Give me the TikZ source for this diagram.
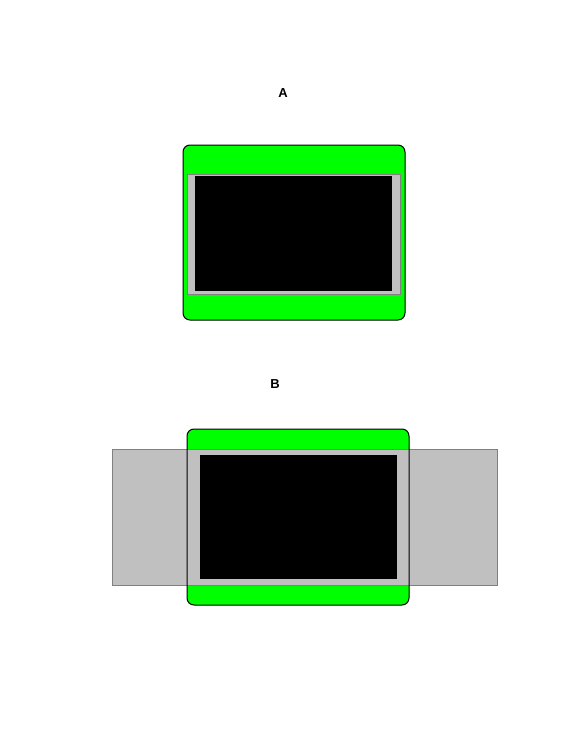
\documentclass[tikz,border=0pt]{standalone}
\usepackage{fontspec}
\setmainfont{Liberation Sans}
\definecolor{screengreen}{RGB}{0,255,0}
\definecolor{panelgray}{RGB}{192,192,192}
\definecolor{edgegray}{RGB}{128,128,128}
\tikzset{
	casebox/.style={fill=screengreen, draw=black, line width=1pt, rounded corners=7pt},
	panelbox/.style={fill=panelgray, draw=edgegray, line width=0.8pt},
	displaybox/.style={fill=black},
	caption/.style={font=\fontsize{13}{15}\selectfont\bfseries}
}
\begin{document}
\begin{tikzpicture}[x=1pt,y=-1pt]
		\useasboundingbox (0,0) rectangle (580,752);
		
		% A
		\node[caption] (labelA) at (283,93) {A};
		\draw[casebox] (183,145) rectangle (405,320);
		\draw[panelbox] (187,174) rectangle (400,294);
		\fill[displaybox] (195,176) rectangle (392,291);
		
		% B
		\node[caption] (labelB) at (275,384) {B};
		\draw[panelbox] (112,449) rectangle (497,585);
		\fill[screengreen, rounded corners=7pt] (187,429) rectangle (409,605);
		\fill[panelgray] (187,449) rectangle (409,585);
		\draw[edgegray, line width=0.8pt] (187,449) -- (409,449) (187,585) -- (409,585);
		\draw[line width=1pt, rounded corners=7pt] (187,429) rectangle (409,605);
		\fill[displaybox] (200,455) rectangle (397,579);
	\end{tikzpicture}
\end{document}
